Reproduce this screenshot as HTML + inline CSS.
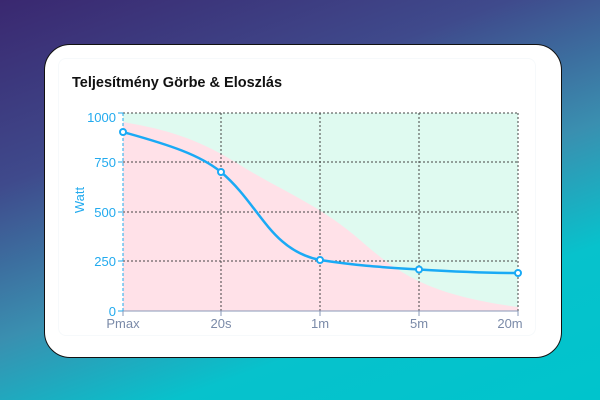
<!DOCTYPE html>
<html><head><meta charset="utf-8"><style>
html,body{margin:0;padding:0;width:600px;height:400px;overflow:hidden}
body{background:linear-gradient(160deg,#3a2870 0%,#3f4a8c 30%,#3a8fb0 55%,#07c2cc 75%,#00c4cc 100%);font-family:"Liberation Sans",sans-serif;position:relative}
.card{position:absolute;left:44px;top:44px;width:518px;height:314px;background:#fff;border:1.5px solid #111;border-radius:26px;box-sizing:border-box}
.panel{position:absolute;left:58px;top:58px;width:478px;height:278px;border:1px solid #f6f9fb;border-radius:8px;box-sizing:border-box}
.title{position:absolute;left:72px;top:75px;font-size:14.5px;font-weight:bold;color:#111}
svg{position:absolute;left:0;top:0}
</style></head><body>
<div class="card"></div>
<div class="panel"></div>
<div class="title">Teljesítmény Görbe &amp; Eloszlás</div>
<svg width="600" height="400" viewBox="0 0 600 400">
<rect x="123" y="113" width="395" height="198" fill="#dffaf0"/>
<path d="M123,122 C170,130 200,140 240,165 C280,190 320,205 360,240 C400,275 430,295 518,307 L518,311 L123,311 Z" fill="#ffe1e8"/>
<g stroke="#444" stroke-width="1" stroke-dasharray="2,2" fill="none">
<line x1="123" y1="113" x2="518" y2="113"/>
<line x1="123" y1="162" x2="518" y2="162"/>
<line x1="123" y1="212" x2="518" y2="212"/>
<line x1="123" y1="261" x2="518" y2="261"/>
<line x1="221" y1="113" x2="221" y2="311"/>
<line x1="320" y1="113" x2="320" y2="311"/>
<line x1="419" y1="113" x2="419" y2="311"/>
<line x1="518" y1="113" x2="518" y2="311"/>
</g>
<line x1="123" y1="311" x2="518" y2="311" stroke="#8a9ab8" stroke-width="1"/>
<line x1="123" y1="113" x2="123" y2="311" stroke="#22aaee" stroke-width="1" stroke-dasharray="3,2"/>
<g stroke="#22aaee" stroke-width="1">
<line x1="118" y1="113" x2="123" y2="113"/><line x1="118" y1="162" x2="123" y2="162"/>
<line x1="118" y1="212" x2="123" y2="212"/><line x1="118" y1="261" x2="123" y2="261"/>
<line x1="118" y1="311" x2="123" y2="311"/>
</g>
<g stroke="#8a9ab8" stroke-width="1">
<line x1="123" y1="311" x2="123" y2="316"/><line x1="221" y1="311" x2="221" y2="316"/>
<line x1="320" y1="311" x2="320" y2="316"/><line x1="419" y1="311" x2="419" y2="316"/>
<line x1="518" y1="311" x2="518" y2="316"/>
</g>
<g font-size="13" fill="#22aaee" text-anchor="end" font-family="Liberation Sans,sans-serif">
<text x="116" y="122">1000</text><text x="116" y="167">750</text>
<text x="116" y="217">500</text><text x="116" y="266">250</text><text x="116" y="316">0</text>
</g>
<text x="84" y="200" font-size="13" fill="#22aaee" text-anchor="middle" transform="rotate(-90 84 200)">Watt</text>
<g font-size="13" fill="#7a8aa8" text-anchor="middle">
<text x="123" y="328">Pmax</text><text x="221" y="328">20s</text><text x="320" y="328">1m</text>
<text x="419" y="328">5m</text><text x="510" y="328">20m</text>
</g>
<path d="M123,132 C170,145 200,155 221,172 C260,205 270,250 320,260 C360,266 380,267 419,269.5 C460,272 490,273 518,273" fill="none" stroke="#1aaaf5" stroke-width="2.5"/>
<g fill="#fff" stroke="#1aaaf5" stroke-width="2">
<circle cx="123" cy="132" r="3"/><circle cx="221" cy="172" r="3"/><circle cx="320" cy="260" r="3"/>
<circle cx="419" cy="269.5" r="3"/><circle cx="518" cy="273" r="3"/>
</g>
</svg>
</body></html>
